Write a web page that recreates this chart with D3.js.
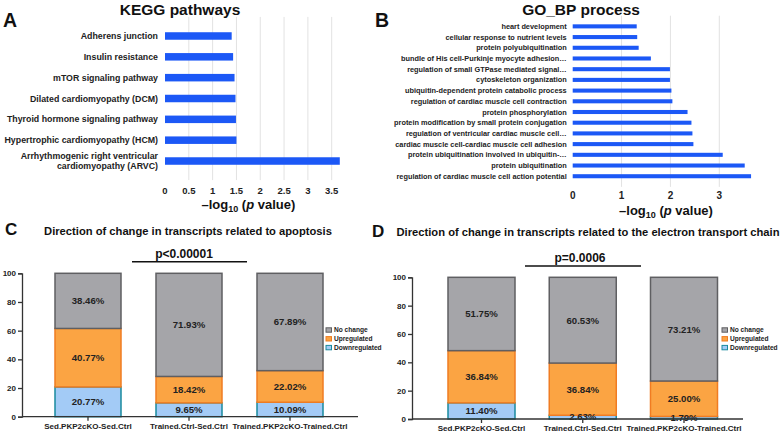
<!DOCTYPE html>
<html><head><meta charset="utf-8">
<script src="https://cdn.jsdelivr.net/npm/d3@7"></script>
<style>
body{margin:0;background:#fff;}
svg{display:block;font-family:"Liberation Sans",Arial,sans-serif;}
</style></head>
<body><svg id="c" width="784" height="434"></svg>
<script>
// ---------- data ----------
const keggTerms = ["Adherens junction","Insulin resistance","mTOR signaling pathway","Dilated cardiomyopathy (DCM)","Thyroid hormone signaling pathway","Hypertrophic cardiomyopathy (HCM)","Arrhythmogenic right ventricular\ncardiomyopathy (ARVC)"];
const keggValues = [1.40,1.43,1.46,1.48,1.49,1.50,3.67];
const keggTicks = [0,0.5,1,1.5,2,2.5,3,3.5];

const goTerms = ["heart development","cellular response to nutrient levels","protein polyubiquitination","bundle of His cell-Purkinje myocyte adhesion…","regulation of small GTPase mediated signal…","cytoskeleton organization","ubiquitin-dependent protein catabolic process","regulation of cardiac muscle cell contraction","protein phosphorylation","protein modification by small protein conjugation","regulation of ventricular cardiac muscle cell…","cardiac muscle cell-cardiac muscle cell adhesion","protein ubiquitination involved in ubiquitin-…","protein ubiquitination","regulation of cardiac muscle cell action potential"];
const goValues = [1.31,1.32,1.35,1.60,1.99,1.99,2.02,2.04,2.35,2.43,2.45,2.47,3.07,3.52,3.65];
const goTicks = [0,1,2,3];

const groups = ["Sed.PKP2cKO-Sed.Ctrl","Trained.Ctrl-Sed.Ctrl","Trained.PKP2cKO-Trained.Ctrl"];
const seriesNames = ["Downregulated","Upregulated","No change"];
const apopDown = [20.77,9.65,10.09];
const apopUp = [40.77,18.42,22.02];
const apopNo = [38.46,71.93,67.89];
const etcDown = [11.40,2.63,1.79];
const etcUp = [36.84,36.84,25.00];
const etcNo = [51.75,60.53,73.21];
const pctTicks = [0,20,40,60,80,100];

const fills = {"Downregulated":"#a3cbf6","Upregulated":"#fba443","No change":"#a5a5a9"};
const strokes = {"Downregulated":"#1a8a9e","Upregulated":"#f07c22","No change":"#5f5f62"};

const svg = d3.select("#c");

// ---------- panel letters ----------
[["A",3,27,19.5],["B",375,27,19.5],["C",5,235,17],["D",372,237,17]].forEach(([t,x,y,s])=>{
  svg.append("text").attr("x",x).attr("y",y).attr("font-size",s).attr("font-weight","bold").attr("fill","#111").text(t);
});

// ---------- horizontal bar panels ----------
function hbar(opts){
  const g = svg.append("g");
  const x = d3.scaleLinear().domain(opts.domain).range(opts.xr);
  const y = d3.scaleBand().domain(opts.terms).range(opts.yr).padding(opts.pad);
  g.selectAll(".grid").data(opts.ticks.filter(d=>d>0)).join("line")
    .attr("x1",d=>x(d)).attr("x2",d=>x(d))
    .attr("y1",opts.yr[0]-2).attr("y2",opts.yr[1]+2)
    .attr("stroke","#e2e2e2").attr("stroke-width",1);
  g.selectAll(".bar").data(opts.terms).join("rect")
    .attr("x",x(0)).attr("y",d=>y(d))
    .attr("width",(d,i)=>x(opts.values[i])-x(0))
    .attr("height",y.bandwidth())
    .attr("fill","#1c58f6");
  const lab = g.selectAll(".lab").data(opts.terms).join("text")
    .attr("text-anchor","end").attr("font-size",opts.lfs).attr("font-weight","bold").attr("fill","#222")
    .attr("x",opts.labX);
  lab.each(function(d){
    const lines = d.split("\n");
    const cy = y(d)+y.bandwidth()/2;
    const lh = opts.lfs*1.15;
    lines.forEach((l,i)=>{
      d3.select(this).append("tspan").attr("x",opts.labX)
        .attr("y",cy + (i-(lines.length-1)/2)*lh).attr("dy","0.35em").text(l);
    });
  });
  g.selectAll(".tk").data(opts.ticks).join("text")
    .attr("x",d=>x(d)).attr("y",opts.tickY).attr("text-anchor","middle")
    .attr("font-size",opts.tfs).attr("font-weight","bold").attr("fill","#222")
    .text(d=>d);
  const t = g.append("text").attr("x",(x.range()[0]+x(opts.domain[1]))/2 + opts.titleDx).attr("y",opts.axTitleY)
    .attr("text-anchor","middle").attr("font-size",13).attr("font-weight","bold").attr("fill","#111");
  t.append("tspan").text("\u2013log");
  t.append("tspan").attr("font-size",9).attr("dy",3).text("10");
  t.append("tspan").attr("dy",-3).text(" (");
  t.append("tspan").attr("font-style","italic").text("p");
  t.append("tspan").text(" value)");
  svg.append("text").attr("x",opts.titleX).attr("y",15).attr("text-anchor","middle")
    .attr("font-size",15.5).attr("font-weight","bold").attr("fill","#111").text(opts.title);
}

hbar({terms:keggTerms,values:keggValues,ticks:keggTicks,domain:[0,3.5],xr:[165,331.7],
  yr:[18.9,178.1],pad:0.64,labX:158,lfs:8.8,tickY:194,tfs:9.5,axTitleY:209,titleDx:0,
  title:"KEGG pathways",titleX:180});
hbar({terms:goTerms,values:goValues,ticks:goTicks,domain:[0,3],xr:[572.7,719.3],
  yr:[17.7,184.9],pad:0.62,labX:566.7,lfs:7.35,tickY:199,tfs:10,axTitleY:215,titleDx:20,
  title:"GO_BP process",titleX:581});

// ---------- stacked percentage panels ----------
function stacked(opts){
  const g = svg.append("g");
  const x = d3.scalePoint().domain(groups).range(opts.centers);
  const y = d3.scaleLinear().domain([0,100]).range([opts.y0,opts.y100]);
  const rows = groups.map((gname,i)=>({group:gname,"Downregulated":opts.down[i],"Upregulated":opts.up[i],"No change":opts.no[i]}));
  const st = d3.stack().keys(seriesNames)(rows);
  st.forEach(layer=>{
    const key = layer.key;
    layer.forEach(seg=>{
      const gx = x(seg.data.group);
      g.append("rect").attr("x",gx-opts.bw/2).attr("width",opts.bw)
        .attr("y",y(seg[1])).attr("height",y(seg[0])-y(seg[1]))
        .attr("fill",fills[key]).attr("stroke",strokes[key]).attr("stroke-width",1.5);
    });
  });
  st.forEach(layer=>{
    layer.forEach(seg=>{
      const gx = x(seg.data.group);
      g.append("text").attr("x",gx).attr("y",(y(seg[0])+y(seg[1]))/2).attr("dy","0.35em")
        .attr("text-anchor","middle").attr("font-size",9.6).attr("font-weight","bold").attr("fill","#222")
        .text(d3.format(".2f")(seg[1]-seg[0])+"%");
    });
  });
  const ya = g.append("g").attr("transform",`translate(${opts.axX},0)`)
    .call(d3.axisLeft(y).tickValues(pctTicks).tickSize(4).tickPadding(2));
  ya.select(".domain").attr("stroke","#333").attr("stroke-width",1.3);
  ya.selectAll(".tick line").attr("stroke","#333").attr("stroke-width",1.3);
  ya.selectAll("text").attr("font-size",8).attr("font-weight","bold").attr("fill","#222")
    .attr("font-family","'Liberation Sans',Arial,sans-serif");
  g.append("line").attr("x1",opts.axX).attr("x2",opts.axEnd).attr("y1",opts.y0).attr("y2",opts.y0)
    .attr("stroke","#333").attr("stroke-width",1.3);
  g.selectAll(".xt").data(groups).join("line").attr("x1",d=>x(d)).attr("x2",d=>x(d))
    .attr("y1",opts.y0).attr("y2",opts.y0+4).attr("stroke","#333").attr("stroke-width",1.3);
  g.selectAll(".xl").data(groups).join("text").attr("x",d=>x(d)).attr("y",opts.y0+12)
    .attr("text-anchor","middle").attr("font-size",8).attr("font-weight","bold").attr("fill","#222").text(d=>d);
  g.append("text").attr("x",opts.titleX).attr("y",opts.titleY).attr("text-anchor","middle")
    .attr("font-size",11.2).attr("font-weight","bold").attr("fill","#111").text(opts.title);
  g.append("text").attr("x",opts.pX).attr("y",opts.pY).attr("text-anchor","middle")
    .attr("font-size",12).attr("font-weight","bold").attr("fill","#111").text(opts.p);
  g.append("line").attr("x1",opts.pLine[0]).attr("x2",opts.pLine[1]).attr("y1",opts.pLineY).attr("y2",opts.pLineY)
    .attr("stroke","#111").attr("stroke-width",1.6);
  const leg = ["No change","Upregulated","Downregulated"];
  leg.forEach((k,i)=>{
    const ly = opts.legY + i*8.8;
    g.append("rect").attr("x",opts.legX).attr("y",ly-2.2).attr("width",5.5).attr("height",4.4)
      .attr("fill",fills[k]).attr("stroke",strokes[k]).attr("stroke-width",1);
    g.append("text").attr("x",opts.legX+8).attr("y",ly).attr("dy","0.35em")
      .attr("font-size",6.6).attr("font-weight","bold").attr("fill","#222").text(k);
  });
}

stacked({down:apopDown,up:apopUp,no:apopNo,centers:[88,290],bw:66,y0:416.7,y100:273.3,axX:22,axEnd:358,
  title:"Direction of change in transcripts related to apoptosis",titleX:188,titleY:235,
  p:"p<0.00001",pX:184,pY:258,pLine:[132,247],pLineY:261.7,legX:326,legY:330});
stacked({down:etcDown,up:etcUp,no:etcNo,centers:[481.5,684],bw:67,y0:419,y100:277.3,axX:412,axEnd:743,
  title:"Direction of change in transcripts related to the electron transport chain",titleX:588,titleY:236,
  p:"p=0.0006",pX:580,pY:262,pLine:[525,641],pLineY:266,legX:722,legY:330});
</script></body></html>
